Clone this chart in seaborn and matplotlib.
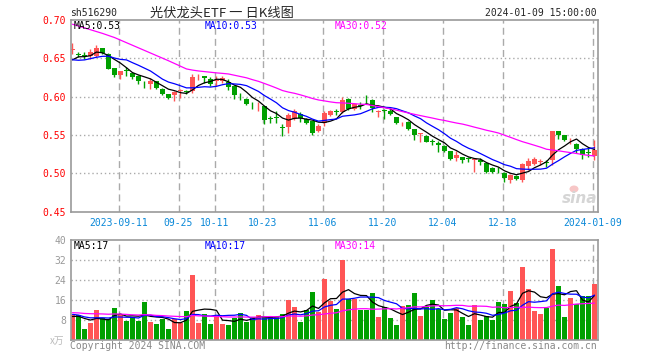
import numpy as np
import pandas as pd
import matplotlib
matplotlib.use("Agg")
import matplotlib.pyplot as plt
from matplotlib.patches import Ellipse
import seaborn as sns

# 日K数据 2023-08-30 ~ 2024-01-09
open_ = [0.6605, 0.6550, 0.6538, 0.6535, 0.6535, 0.6636, 0.6557, 0.6368, 0.6285, 0.6340,
         0.6302, 0.6272, 0.6165, 0.6160, 0.6206, 0.6105, 0.6030, 0.6021, 0.6070, 0.6065,
         0.6074, 0.6265, 0.6272, 0.6228, 0.6203, 0.6206, 0.6193, 0.6140, 0.6020, 0.5974,
         0.5888, 0.5884, 0.5877, 0.5712, 0.5725, 0.5594, 0.5600, 0.5710, 0.5767, 0.5710,
         0.5680, 0.5548, 0.5658, 0.5754, 0.5804, 0.5802, 0.5974, 0.5833, 0.5879, 0.5967,
         0.5956, 0.5800, 0.5813, 0.5811, 0.5737, 0.5664, 0.5671, 0.5579, 0.5515, 0.5491,
         0.5409, 0.5394, 0.5359, 0.5284, 0.5197, 0.5210, 0.5186, 0.5172, 0.5175, 0.5131,
         0.5074, 0.5054, 0.5008, 0.4912, 0.4969, 0.4912, 0.5100, 0.5122, 0.5151, 0.5142,
         0.5166, 0.5548, 0.5496, 0.5428, 0.5386, 0.5316, 0.5265, 0.5228]
high = [0.6698, 0.6579, 0.6579, 0.6620, 0.6676, 0.6640, 0.6565, 0.6372, 0.6340, 0.6381,
        0.6324, 0.6280, 0.6206, 0.6241, 0.6210, 0.6115, 0.6035, 0.6070, 0.6096, 0.6085,
        0.6294, 0.6300, 0.6275, 0.6250, 0.6272, 0.6272, 0.6228, 0.6145, 0.6053, 0.5987,
        0.5930, 0.5930, 0.5880, 0.5745, 0.5811, 0.5636, 0.5789, 0.5833, 0.5802, 0.5715,
        0.5685, 0.5636, 0.5811, 0.5820, 0.5842, 0.6000, 0.5978, 0.5921, 0.5930, 0.6018,
        0.5965, 0.5824, 0.5842, 0.5842, 0.5740, 0.5670, 0.5675, 0.5583, 0.5526, 0.5495,
        0.5447, 0.5416, 0.5363, 0.5288, 0.5284, 0.5215, 0.5210, 0.5180, 0.5197, 0.5135,
        0.5078, 0.5087, 0.5013, 0.4986, 0.4972, 0.5131, 0.5197, 0.5206, 0.5184, 0.5166,
        0.5550, 0.5550, 0.5500, 0.5460, 0.5390, 0.5329, 0.5329, 0.5438]
low = [0.6557, 0.6513, 0.6491, 0.6491, 0.6513, 0.6560, 0.6355, 0.6250, 0.6228, 0.6272,
       0.6228, 0.6162, 0.6118, 0.6096, 0.6096, 0.6021, 0.5970, 0.5942, 0.5986, 0.6035,
       0.6052, 0.6215, 0.6176, 0.6140, 0.6140, 0.6184, 0.6088, 0.5965, 0.5956, 0.5890,
       0.5833, 0.5811, 0.5636, 0.5649, 0.5658, 0.5482, 0.5526, 0.5693, 0.5666, 0.5636,
       0.5504, 0.5539, 0.5622, 0.5745, 0.5754, 0.5789, 0.5824, 0.5824, 0.5833, 0.5912,
       0.5798, 0.5737, 0.5710, 0.5754, 0.5636, 0.5614, 0.5570, 0.5438, 0.5412, 0.5403,
       0.5372, 0.5271, 0.5271, 0.5166, 0.5153, 0.5131, 0.5140, 0.5021, 0.5109, 0.4999,
       0.4999, 0.4999, 0.4890, 0.4877, 0.4912, 0.4890, 0.5043, 0.5109, 0.5109, 0.5087,
       0.5109, 0.5452, 0.5417, 0.5386, 0.5263, 0.5184, 0.5210, 0.5175]
close = [0.6615, 0.6545, 0.6533, 0.6579, 0.6636, 0.6566, 0.6360, 0.6285, 0.6338, 0.6335,
         0.6250, 0.6206, 0.6160, 0.6206, 0.6109, 0.6030, 0.5978, 0.6065, 0.6075, 0.6060,
         0.6259, 0.6270, 0.6237, 0.6162, 0.6206, 0.6241, 0.6119, 0.6022, 0.6016, 0.5899,
         0.5884, 0.5888, 0.5693, 0.5708, 0.5721, 0.5590, 0.5754, 0.5811, 0.5723, 0.5649,
         0.5526, 0.5622, 0.5789, 0.5811, 0.5800, 0.5952, 0.5842, 0.5899, 0.5875, 0.5963,
         0.5855, 0.5804, 0.5809, 0.5767, 0.5658, 0.5668, 0.5583, 0.5495, 0.5519, 0.5412,
         0.5405, 0.5363, 0.5284, 0.5183, 0.5241, 0.5175, 0.5182, 0.5176, 0.5140, 0.5021,
         0.5013, 0.5050, 0.4934, 0.4978, 0.4925, 0.5118, 0.5153, 0.5184, 0.5155, 0.5138,
         0.5548, 0.5504, 0.5430, 0.5432, 0.5316, 0.5241, 0.5261, 0.5298]
# 成交量，单位万
volume = [10.0, 10.0, 4.4, 6.9, 12.0, 8.7, 8.4, 12.9, 10.0, 7.7,
          9.3, 7.7, 15.3, 7.3, 6.4, 8.4, 4.4, 8.4, 6.9, 11.6,
          26.0, 6.9, 10.4, 6.4, 9.6, 6.4, 6.0, 8.9, 10.7, 7.3,
          9.1, 10.0, 9.1, 9.1, 9.1, 10.4, 16.0, 13.3, 7.3, 12.0,
          19.3, 11.3, 24.4, 15.6, 12.4, 32.0, 16.3, 16.5, 12.0, 12.0,
          18.9, 9.3, 13.1, 8.9, 6.0, 13.6, 14.0, 18.9, 9.6, 13.1,
          16.0, 12.3, 8.4, 10.7, 12.7, 9.2, 6.0, 14.0, 8.0, 9.6,
          8.0, 15.3, 14.4, 19.7, 14.7, 29.3, 20.4, 11.7, 10.4, 12.7,
          36.4, 21.6, 9.3, 16.9, 14.4, 17.7, 17.6, 22.5]

# 图左边之前的29天，只用来算均线（按均线在左端的位置估的）
pre_close = [0.7265, 0.7253, 0.7299, 0.7356, 0.7286, 0.7170, 0.7095, 0.7348, 0.7345, 0.7260,
             0.7216, 0.7170, 0.7216, 0.7119, 0.7040, 0.6988, 0.7135, 0.7145, 0.7130, 0.6709,
             0.6610, 0.6487, 0.6412, 0.6456, 0.6441, 0.6349, 0.6522, 0.6516, 0.6399]
pre_volume = [12.5, 11.0, 9.8, 13.2, 10.5, 11.8, 9.6, 12.0, 10.9, 14.1,
              10.2, 11.4, 9.9, 12.6, 10.8, 9.4, 11.7, 10.3, 12.2, 11.1,
              13.0, 11.5, 10.8, 11.6, 8.7, 9.5, 8.8, 10.1, 8.6]

tick_pos = [8, 18, 24, 32, 42, 52, 62, 72, 87]
tick_labels = ["2023-09-11", "09-25", "10-11", "10-23", "11-06",
               "11-20", "12-04", "12-18", "2024-01-09"]
price_ticks = [0.45, 0.50, 0.55, 0.60, 0.65, 0.70]
vol_ticks = [8, 16, 24, 32, 40]

RED = "#ff5555"
GREEN = "#00a000"
GRID = "#aaaaaa"
MONO = "DejaVu Sans Mono"

sns.set_style("white")
plt.rcParams["font.family"] = ["DejaVu Sans Mono", "Noto Sans CJK SC"]

n = len(close)
df = pd.DataFrame({"idx": np.arange(n), "open": open_, "high": high, "low": low,
                   "close": close, "vol": volume})
df["dir"] = np.where(df["close"] >= df["open"], "up", "down")

c_all = pd.Series(pre_close + close)
v_all = pd.Series(pre_volume + volume)
k = len(pre_close)
for w in (5, 10, 30):
    df[f"ma{w}"] = c_all.rolling(w).mean().iloc[k:].values
    df[f"vma{w}"] = v_all.rolling(w).mean().iloc[k:].values

fig = plt.figure(figsize=(6.6, 3.6), dpi=100)
W, H = 660, 360
ax = fig.add_axes([70.5 / W, 1 - 211.5 / H, 527 / W, 191.5 / H])
axv = fig.add_axes([70.5 / W, 20 / H, 527 / W, 100 / H])

# ---- K线 ----
colors = [RED if d == "up" else GREEN for d in df["dir"]]
ax.vlines(df["idx"], df["low"], df["high"], colors=colors, lw=1, zorder=2)
body = np.maximum((df["close"] - df["open"]).abs(), 0.0010)
ax.bar(df["idx"], body, bottom=np.minimum(df["open"], df["close"]), width=0.75,
       color=colors, linewidth=0, zorder=2)
sns.lineplot(data=df, x="idx", y="ma5", color="black", lw=0.9, ax=ax, zorder=3)
sns.lineplot(data=df, x="idx", y="ma10", color="#0000ff", lw=0.9, ax=ax, zorder=3)
sns.lineplot(data=df, x="idx", y="ma30", color="#ff00ff", lw=0.9, ax=ax, zorder=3)

# ---- 成交量 ----
sns.barplot(data=df, x="idx", y="vol", hue="dir", palette={"up": RED, "down": GREEN},
            dodge=False, width=0.78, saturation=1, errorbar=None, legend=False,
            linewidth=0, ax=axv, zorder=2)
sns.lineplot(data=df, x="idx", y="vma5", color="black", lw=0.9, ax=axv, zorder=3)
sns.lineplot(data=df, x="idx", y="vma10", color="#0000ff", lw=0.9, ax=axv, zorder=3)
sns.lineplot(data=df, x="idx", y="vma30", color="#ff00ff", lw=0.9, ax=axv, zorder=3)

grid_x = [p - 0.33 for p in tick_pos]
for a in (ax, axv):
    a.set_xlim(-0.33, 87.5)
    a.set_xlabel("")
    a.set_ylabel("")
    for s in a.spines.values():
        s.set_color("#999999")
        s.set_linewidth(1.2)
    for gx in grid_x:
        a.axvline(gx, color=GRID, lw=1, ls=(0, (5, 3)), zorder=1)
    a.tick_params(length=0)

ax.set_ylim(0.45, 0.70)
ax.set_yticks(price_ticks)
ax.set_yticklabels([f"{p:.2f}" for p in price_ticks], color="#ff0000",
                   fontsize=7, family=MONO)
for p in price_ticks[1:-1]:
    ax.axhline(p, color=GRID, lw=1, ls=(0, (1, 2)), zorder=1)
ax.set_xticks(grid_x)
ax.set_xticklabels(tick_labels, color="#0a88d8", fontsize=7, family=MONO)
ax.tick_params(axis="x", pad=5)
ax.tick_params(axis="y", pad=3)

axv.set_ylim(0, 40)
axv.set_yticks(vol_ticks)
axv.set_yticklabels([str(v) for v in vol_ticks], color="#999999", fontsize=7, family=MONO)
for v in vol_ticks[:-1]:
    axv.axhline(v, color=GRID, lw=1, ls=(0, (1, 2)), zorder=1)
axv.set_xticks([])
axv.tick_params(axis="y", pad=3)


def ftext(x, y, s, **kw):
    kw.setdefault("fontsize", 7)
    kw.setdefault("va", "center")
    fig.text(x / W, 1 - y / H, s, **kw)


last = df.iloc[-1]
ftext(70, 13, "sh516290", family=MONO)
ftext(150, 13, "光伏龙头ETF 一 日K线图", fontsize=9.5,
      family=["Noto Sans CJK SC", "DejaVu Sans"])
ftext(597, 13, "2024-01-09 15:00:00", ha="right", family=MONO)
ftext(74, 26, f"MA5:{last['ma5']:.2f}", color="black", family=MONO)
ftext(205, 26, f"MA10:{last['ma10']:.2f}", color="#0000ff", family=MONO)
ftext(335, 26, f"MA30:{last['ma30']:.2f}", color="#ff00ff", family=MONO)
ftext(74, 246, f"MA5:{int(last['vma5'])}", color="black", family=MONO)
ftext(205, 246, f"MA10:{int(last['vma10'])}", color="#0000ff", family=MONO)
ftext(335, 246, f"MA30:{int(last['vma30'])}", color="#ff00ff", family=MONO)
ftext(50, 341, "x万", color="#bbbbbb", family=["Noto Sans CJK SC", "DejaVu Sans"])
ftext(70, 346, "Copyright 2024 SINA.COM", color="#888888", family=MONO)
ftext(597, 346, "http://finance.sina.com.cn", ha="right", color="#888888", family=MONO)

# 水印
fig.add_artist(Ellipse((574 / W, 1 - 189 / H), 9 / W, 7 / H, transform=fig.transFigure,
                       fc="#f5b8b8", ec="none", alpha=0.8))
ftext(580, 198, "sina", ha="center", fontsize=11, color="#d5d5d5",
      style="italic", weight="bold", family="DejaVu Sans")

fig.savefig("out.png", dpi=100)
